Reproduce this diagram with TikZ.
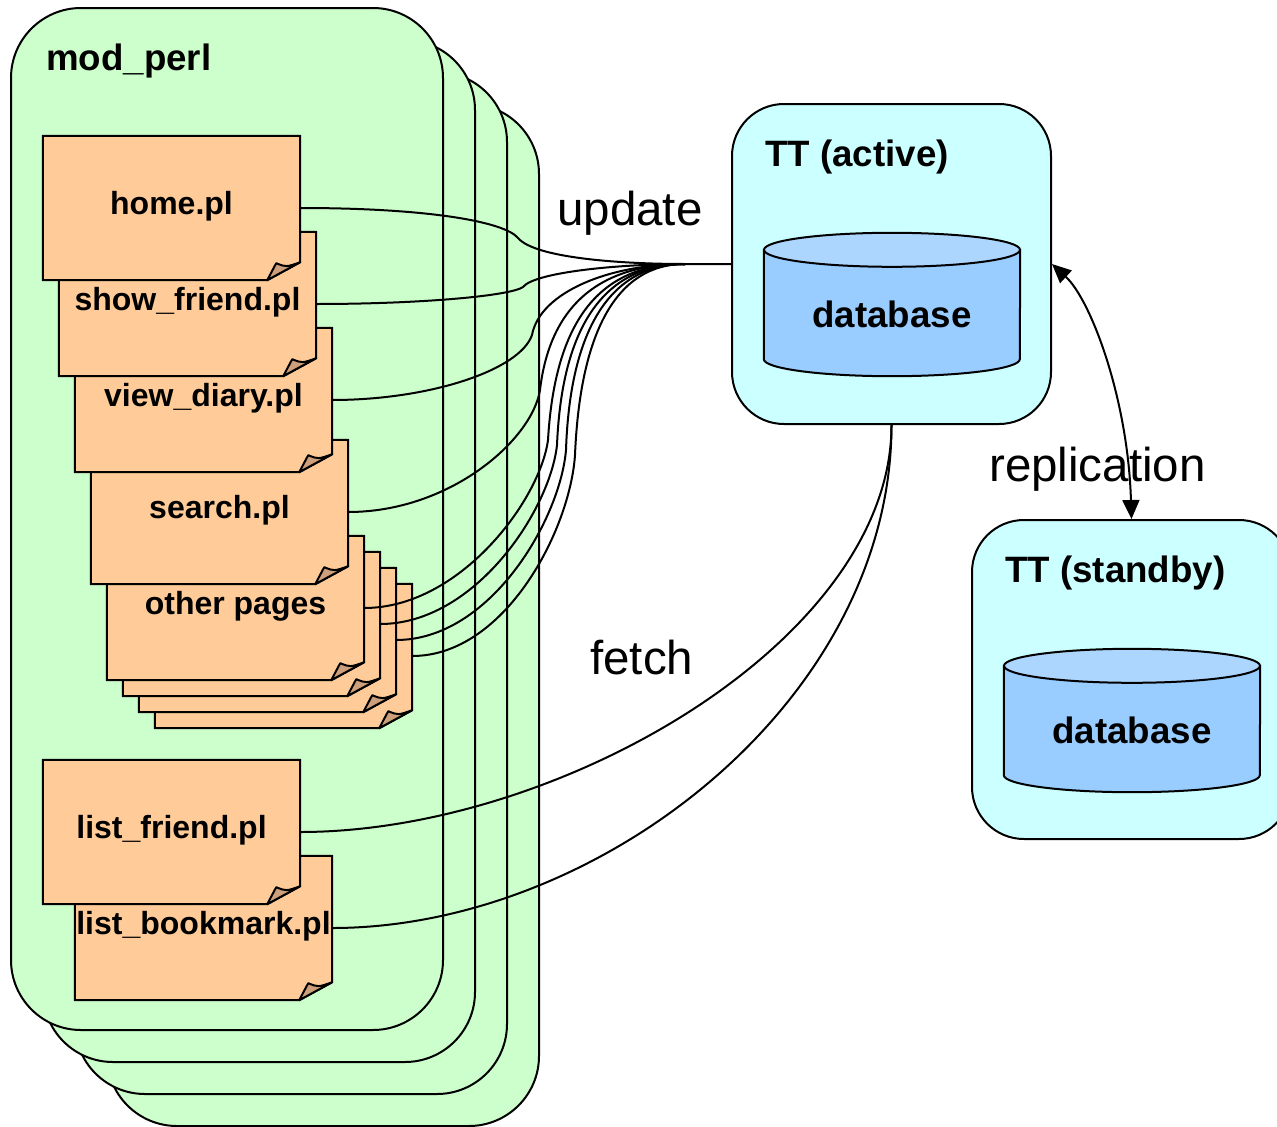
\documentclass[tikz,border=0pt]{standalone}
\usepackage{fontspec}
\setmainfont{Liberation Sans}
\usetikzlibrary{arrows.meta}
\definecolor{grn}{RGB}{204,255,204}
\definecolor{docfill}{RGB}{255,204,153}
\definecolor{foldfill}{RGB}{204,160,122}
\definecolor{ttfill}{RGB}{204,255,255}
\definecolor{dbside}{RGB}{153,204,255}
\definecolor{dbtop}{RGB}{173,214,255}
\newcommand\mydoc[4]{%
  \node[docnode] (#1) at ({#2+128.5},{-#3-72}) {};
  \filldraw[docline] (#1.north west) -- (#1.north east) -- ([yshift=18pt]#1.south east)
     -- ([xshift=-33pt]#1.south east) -- (#1.south west) -- cycle;
  \filldraw[foldline] ([xshift=-33pt]#1.south east) -- ([xshift=-24pt,yshift=17pt]#1.south east)
     .. controls ([xshift=-14pt,yshift=13pt]#1.south east) .. ([yshift=18pt]#1.south east) -- cycle;
  \node[doclabel] (#1-l) at ([yshift=-6pt]#1.center) {#4};
}
\newcommand\mydb[2]{%
  \node[dbnode] (#1) at (#2) {};
  \filldraw[dbsideline] ([yshift=-17pt]#1.north west) -- ([yshift=17pt]#1.south west)
     arc[start angle=180,end angle=360,x radius=128,y radius=17] -- ([yshift=-17pt]#1.north east) -- cycle;
  \filldraw[dbtopline] ([yshift=-17pt]#1.north) ellipse[x radius=128,y radius=17];
  \node[headlabel,anchor=base] (#1-l) at ([yshift=-23pt]#1.center) {database};
}
\begin{document}
\begin{tikzpicture}[x=1pt,y=1pt,
  ln/.style={line width=2pt},
  perlbox/.style={draw,ln,fill=grn,rounded corners=70pt,minimum width=432pt,minimum height=1022pt,inner sep=0pt},
  ttbox/.style={draw,ln,fill=ttfill,rounded corners=52pt,minimum width=319pt,minimum height=320pt,inner sep=0pt},
  docnode/.style={minimum width=257pt,minimum height=144pt,inner sep=0pt,draw=none},
  docline/.style={ln,fill=docfill},
  foldline/.style={ln,fill=foldfill,line join=round},
  dbnode/.style={minimum width=256pt,minimum height=143pt,inner sep=0pt,draw=none},
  dbsideline/.style={ln,fill=dbside},
  dbtopline/.style={ln,fill=dbtop},
  doclabel/.style={anchor=base,inner sep=0pt,font=\fontsize{32}{38}\selectfont\bfseries},
  headlabel/.style={inner sep=0pt,font=\fontsize{36.7}{44}\selectfont\bfseries},
  biglabel/.style={anchor=base west,inner sep=0pt,font=\fontsize{47.5}{56}\selectfont},
  conn/.style={ln},
  repl/.style={ln,{Triangle[length=19pt,width=17pt]}-{Triangle[length=19pt,width=17pt]}}
]
\clip (0,0) rectangle (1277,-1127);
\fill[white] (0,0) rectangle (1277,-1127);

% mod_perl stacked boxes
\node[perlbox] (p4) at (323,-615) {};
\node[perlbox] (p3) at (291,-583) {};
\node[perlbox] (p2) at (259,-551) {};
\node[perlbox] (p1) at (227,-519) {};
\node[headlabel,anchor=base west] (perl) at (46,-70.5) {mod\_perl};

% documents (lower ones first)
\mydoc{lb}{75}{856}{list\_bookmark.pl}
\mydoc{lf}{43}{760}{list\_friend.pl}
\mydoc{op4}{155}{584}{}
\mydoc{op3}{139}{568}{}
\mydoc{op2}{123}{552}{}
\mydoc{op1}{107}{536}{other pages}
\mydoc{search}{91}{440}{search.pl}
\mydoc{view}{75}{328}{view\_diary.pl}
\mydoc{show}{59}{232}{show\_friend.pl}
\mydoc{home}{43}{136}{home.pl}

% TT boxes
\node[ttbox] (tta) at (891.5,-264) {};
\node[headlabel,anchor=base west] (tta-l) at ([xshift=34pt,yshift=-63pt]tta.north west) {TT (active)};
\mydb{db1}{892,-304.5}
\node[ttbox,minimum height=319pt] (ttb) at (1131.5,-679.5) {};
\node[headlabel,anchor=base west] (ttb-l) at ([xshift=34pt,yshift=-63pt]ttb.north west) {TT (standby)};
\mydb{db2}{1132,-720.5}

% labels
\node[biglabel] (upd) at (557,-225) {update};
\node[biglabel] (rep) at (989,-481) {replication};
\node[biglabel] (fet) at (590,-674) {fetch};

% update connectors
\coordinate (conv) at (685,-264);
\draw[conn] (home.east) .. controls (430,-208) and (505,-222) .. (518,-238)
   .. controls (535,-258) and (620,-264) .. (conv) -- (tta.west);
\draw[conn] (show.east) .. controls (420,-304) and (510,-296) .. (523,-287)
   .. controls (535,-272) and (620,-264) .. (conv);
\draw[conn] (view.east) .. controls (430,-400) and (520,-370) .. (532,-335)
   .. controls (540,-292) and (610,-264) .. (conv);
\draw[conn] (search.east) .. controls (450,-512) and (532,-440) .. (540,-390)
   .. controls (550,-305) and (600,-264) .. (conv);
\draw[conn] (op1.east) .. controls (460,-608) and (540,-500) .. (548,-440)
   .. controls (555,-320) and (600,-264) .. (conv);
\draw[conn] (op2.east) .. controls (475,-624) and (550,-510) .. (557,-445)
   .. controls (562,-325) and (605,-264) .. (conv);
\draw[conn] (op3.east) .. controls (490,-640) and (560,-520) .. (566,-450)
   .. controls (570,-330) and (610,-264) .. (conv);
\draw[conn] (op4.east) .. controls (505,-656) and (570,-530) .. (575,-455)
   .. controls (580,-335) and (615,-264) .. (conv);

% fetch connectors
\draw[conn] (lf.east) .. controls (560,-832) and (891.5,-640) .. (tta.south);
\draw[conn] (lb.east) .. controls (600,-928) and (891.5,-700) .. (tta.south);

% replication
\draw[repl] (tta.east) .. controls +(39,-36) and +(-3.5,120) .. (ttb.north);
\end{tikzpicture}
\end{document}
